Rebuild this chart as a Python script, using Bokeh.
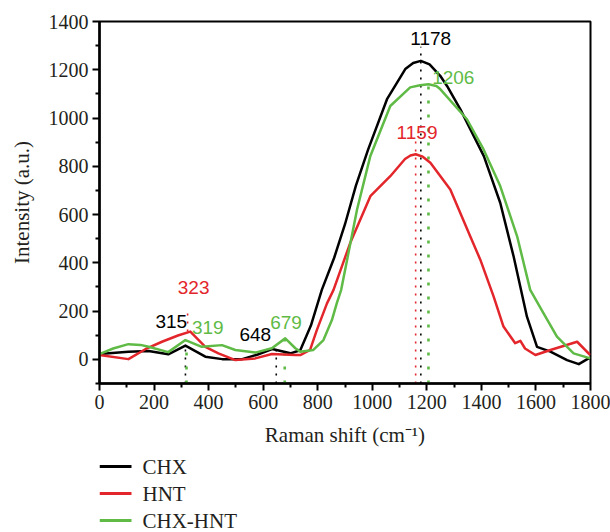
from bokeh.plotting import figure
from bokeh.models import FixedTicker
from bokeh.layouts import column
from bokeh.core.properties import value
from bokeh.embed import file_html
from bokeh.resources import INLINE

# ---- data ----
chx_x = [0, 106, 180, 252, 315, 388, 450, 520, 580, 633, 700, 736, 775, 815, 860, 900, 940,
         985, 1054, 1121, 1150, 1178, 1210, 1249, 1274, 1323, 1409, 1469, 1518, 1567, 1604,
         1653, 1714, 1757, 1793, 1800]
chx_y = [22, 32, 35, 21, 57, 11, 1, 0, 20, 43, 25, 38, 140, 288, 420, 560, 720,
         870, 1078, 1203, 1228, 1237, 1222, 1175, 1133, 1036, 842, 649, 427, 177, 52,
         32, -3, -20, 4, 5]

hnt_x = [0, 106, 168, 229, 290, 333, 388, 436, 498, 571, 632, 718, 736, 772, 797, 834, 858,
         919, 993, 1066, 1120, 1140, 1159, 1185, 1213, 1286, 1359, 1396, 1445, 1481, 1524,
         1543, 1560, 1598, 1653, 1751, 1799]
hnt_y = [18, 1, 42, 73, 100, 115, 52, 25, -3, 4, 22, 18, 18, 39, 122, 232, 288,
         482, 676, 759, 830, 845, 850, 840, 815, 704, 510, 413, 260, 136, 67,
         77, 45, 18, 39, 73, 18]

mix_x = [0, 50, 106, 150, 180, 252, 315, 375, 449, 498, 571, 632, 681, 718, 736, 784, 821,
         852, 870, 886, 944, 993, 1066, 1139, 1175, 1206, 1235, 1249, 1347, 1408, 1469,
         1531, 1579, 1628, 1677, 1738, 1799]
mix_y = [22, 45, 63, 60, 52, 30, 80, 52, 59, 39, 28, 46, 87, 46, 32, 39, 80,
         163, 233, 288, 620, 843, 1050, 1127, 1136, 1140, 1133, 1120, 995, 870, 718,
         510, 288, 191, 94, 25, 4]

series_names = ["CHX", "HNT", "CHX-HNT"]

# peak annotations: wavenumber, series index, dotted-line extent
peak_values = [315, 648, 1178, 323, 1159, 319, 679, 1206]
peak_series = [0, 0, 0, 1, 1, 2, 2, 2]
peak_line_lo = [-100, -100, -100, 115, -100, -100, -100, -100]
peak_line_hi = [55, 42, 1295, 215, 910, 78, 85, 1135]

x_ticks = [0, 200, 400, 600, 800, 1000, 1200, 1400, 1600, 1800]
x_minor = [100, 300, 500, 700, 900, 1100, 1300, 1500, 1700]
y_ticks = [0, 200, 400, 600, 800, 1000, 1200, 1400]
y_minor = [-100, 100, 300, 500, 700, 900, 1100, 1300]

# ---- layout / style ----
colors = ["#000000", "#e3262b", "#5fbb46"]
label_pos = [(263, 156), (571, 105), (1214, 1328), (345, 296), (1164, 940),
             (397, 134), (684, 153), (1297, 1170)]
dash_styles = ["2 6", "2 6", "3 11"]
dash_widths = [1.6, 1.6, 2.6]
serif = "Liberation Serif"
text_dark = "#231f20"

p = figure(width=610, height=452, x_range=(0, 1800), y_range=(-100, 1400),
           output_backend="svg", toolbar_location=None,
           min_border_left=99, min_border_right=20, min_border_top=21, min_border_bottom=69)
p.background_fill_color = "white"
p.border_fill_color = "white"
p.grid.visible = False
p.outline_line_color = "black"
p.outline_line_width = 2
p.outline_line_alpha = 1

for ax in (p.xaxis[0], p.yaxis[0]):
    ax.axis_line_width = 2.5
    ax.major_tick_line_width = 2
    ax.minor_tick_line_width = 2
    ax.major_tick_in = 0
    ax.major_tick_out = 7
    ax.minor_tick_in = 0
    ax.minor_tick_out = 4
    ax.major_label_text_font = serif
    ax.major_label_text_font_size = "20px"
    ax.major_label_text_color = text_dark
    ax.axis_label_text_font = serif
    ax.axis_label_text_font_size = "21px"
    ax.axis_label_text_font_style = "normal"
    ax.axis_label_text_color = text_dark

p.xaxis[0].ticker = FixedTicker(ticks=x_ticks, minor_ticks=x_minor)
p.yaxis[0].ticker = FixedTicker(ticks=y_ticks, minor_ticks=y_minor)
p.xaxis[0].major_label_standoff = 4
p.yaxis[0].major_label_standoff = 4
p.xaxis[0].axis_label = "Raman shift (cm\u207b\u00b9)"
p.yaxis[0].axis_label = "Intensity (a.u.)"
p.xaxis[0].axis_label_standoff = 11
p.yaxis[0].axis_label_standoff = 12

xs = [chx_x, hnt_x, mix_x]
ys = [chx_y, hnt_y, mix_y]

# dotted peak markers
for v, s, lo, hi in zip(peak_values, peak_series, peak_line_lo, peak_line_hi):
    p.segment(x0=[v], y0=[lo], x1=[v], y1=[hi], line_color=colors[s],
              line_dash=dash_styles[s], line_width=dash_widths[s])

for i in range(3):
    p.line(xs[i], ys[i], line_color=colors[i], line_width=2.5, line_join="round")

# peak labels
for v, s, (lx, ly) in zip(peak_values, peak_series, label_pos):
    p.text(x=[lx], y=[ly], text=[str(v)], text_color=colors[s],
           text_font=value("Liberation Sans"), text_font_size="19px",
           text_align="center", text_baseline="middle")

# ---- legend panel below the chart (pixel-like coordinates; its frame is
#      aligned by the column layout with the chart frame, x 99..590) ----
leg = figure(width=610, height=80, x_range=(99, 590), y_range=(0, 80),
             x_axis_type=None, y_axis_type=None,
             output_backend="svg", toolbar_location=None,
             min_border_left=99, min_border_right=20, min_border_top=0, min_border_bottom=0)
leg.grid.visible = False
leg.outline_line_color = None
leg.background_fill_color = "white"
leg.border_fill_color = "white"
row_y = [66, 39, 12]
for i in range(3):
    leg.line([99, 131], [row_y[i], row_y[i]], line_color=colors[i], line_width=3)
    leg.text(x=[142], y=[row_y[i]], text=[series_names[i]], text_color=text_dark,
             text_font=value(serif), text_font_size="21px",
             text_align="left", text_baseline="middle")

layout = column(p, leg, spacing=0)
open("out.html", "w").write(file_html(layout, INLINE))
